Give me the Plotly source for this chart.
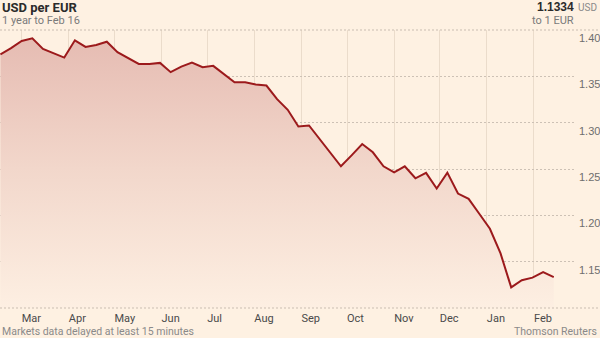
import pandas as pd
import plotly.graph_objects as go

# ---- data (weekly closes, USD per EUR) ----
dates = pd.date_range("2014-02-15", periods=53, freq="7D")
usd_per_eur = [
    1.3736, 1.3804, 1.3882, 1.3911, 1.3796, 1.3752, 1.3702, 1.3889, 1.3817, 1.3839,
    1.3874, 1.3760, 1.3695, 1.3634, 1.3634, 1.3645, 1.3545, 1.3605, 1.3648, 1.3599,
    1.3613, 1.3526, 1.3437, 1.3437, 1.3411, 1.3401, 1.3254, 1.3139, 1.2959, 1.2970,
    1.2827, 1.2684, 1.2529, 1.2647, 1.2770, 1.2680, 1.2529, 1.2464, 1.2529, 1.2400,
    1.2458, 1.2289, 1.2461, 1.2235, 1.2178, 1.2017, 1.1855, 1.1589, 1.1223, 1.1299,
    1.1328, 1.1388, 1.1334,
]
y_ticks = [1.15, 1.20, 1.25, 1.30, 1.35, 1.40]
y_tick_labels = ["1.15", "1.20", "1.25", "1.30", "1.35", "1.40"]
latest_label = "1.1334"

BG = "#fef1e2"
LINE = "#9c1a1c"
NARROW = "Liberation Sans Narrow, Arial Narrow, Roboto, sans-serif"
REG = "Liberation Sans, Arial, sans-serif"

W, H = 600, 338
ML, MR, MT, MB = 0, 24, 30, 30
PW, PH = W - ML - MR, H - MT - MB


def px(x):
    return (x - ML) / PW


def py(y):
    return (H - MB - y) / PH


fig = go.Figure()
fig.add_trace(go.Scatter(
    x=dates, y=usd_per_eur, mode="lines",
    line=dict(color=LINE, width=2),
    fill="tozeroy",
    fillgradient=dict(type="vertical", start=1.10, stop=1.40,
                      colorscale=[[0, "rgb(253,239,226)"], [0.5, "rgb(242,215,203)"],
                                  [1, "rgb(229,186,177)"]]),
    hoverinfo="skip", showlegend=False,
))

annotations = [
    dict(text="<b>USD per EUR</b>", x=px(0), y=py(7), xanchor="left", yanchor="middle",
         font=dict(family=NARROW, size=13, color="#2b2b2b")),
    dict(text="1 year to Feb 16", x=px(0), y=py(20.5), xanchor="left", yanchor="middle",
         font=dict(family=NARROW, size=11, color="#7a7a7a")),
    dict(text="<b>" + latest_label + "</b>", x=px(576), y=py(7), xanchor="right", yanchor="middle",
         font=dict(family=REG, size=12, color="#2b2b2b")),
    dict(text="USD", x=px(599), y=py(7.5), xanchor="right", yanchor="middle",
         font=dict(family=NARROW, size=10, color="#8a8a8a")),
    dict(text="to 1 EUR", x=px(576), y=py(20.5), xanchor="right", yanchor="middle",
         font=dict(family=NARROW, size=11, color="#7a7a7a")),
    dict(text="Markets data delayed at least 15 minutes", x=px(0), y=py(331), xanchor="left",
         yanchor="middle", font=dict(family=NARROW, size=10.5, color="#8a8a8a")),
    dict(text="Thomson Reuters", x=px(599), y=py(331), xanchor="right", yanchor="middle",
         font=dict(family=NARROW, size=10.5, color="#8a8a8a")),
]
for a in annotations:
    a.update(xref="paper", yref="paper", showarrow=False)

shapes = [
    dict(type="line", xref="paper", yref="paper", x0=0, x1=px(600), y0=1, y1=1,
         line=dict(color="#c9bdb1", width=1, dash="2px,2px")),
    dict(type="line", xref="paper", yref="paper", x0=0, x1=px(600), y0=0, y1=0,
         line=dict(color="#c9bdb1", width=1, dash="2px,2px")),
]

fig.update_layout(
    width=W, height=H,
    margin=dict(l=ML, r=MR, t=MT, b=MB),
    paper_bgcolor=BG, plot_bgcolor=BG,
    annotations=annotations, shapes=shapes,
    xaxis=dict(
        type="date", range=["2014-02-14 17:30", "2015-02-28 15:10"],
        dtick="M1", tick0="2014-03-01", tickformat="%b",
        ticklabelposition="outside right", ticks="", showline=False, zeroline=False,
        showgrid=True, gridcolor="#ebdccb", gridwidth=1,
        tickfont=dict(family=NARROW, size=11, color="#4a4a4a"),
        ticklabelstandoff=2,
    ),
    yaxis=dict(
        side="right", range=[1.10, 1.40], tickvals=y_ticks, ticktext=y_tick_labels,
        showgrid=True, gridcolor="#cdc1b5", gridwidth=1, griddash="2px,2px",
        zeroline=False, showline=False, ticks="",
        ticklabelshift=8, ticklabelstandoff=2,
        tickfont=dict(family=REG, size=11, color="#6e6e6e"),
    ),
)

fig.write_html("out.html")
